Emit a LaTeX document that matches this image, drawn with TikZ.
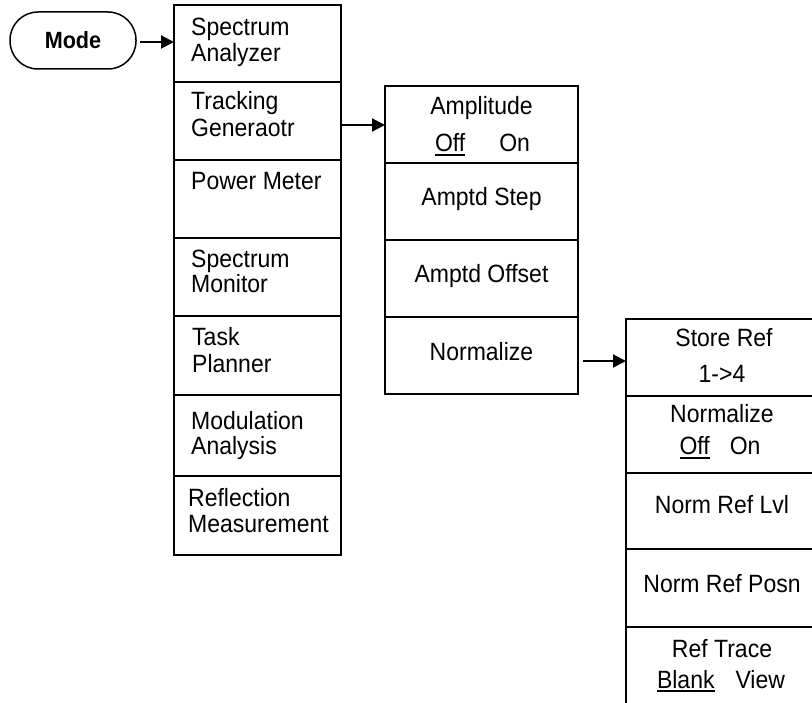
\documentclass[tikz,border=0pt]{standalone}
\usepackage{fontspec}
\setmainfont{Liberation Sans}[FakeStretch=0.92]
\usetikzlibrary{arrows.meta,calc}
\newcommand\myul[1]{\setbox0\hbox{#1}\leavevmode\rlap{\vrule width\wd0 height -2pt depth 4pt}\box0}
\begin{document}
\begin{tikzpicture}[x=1pt,y=-1pt,
 box/.style={draw,line width=2pt,inner sep=0pt,outer sep=0pt,anchor=north west},
 cA/.style={box,minimum width=167pt},
 cB/.style={box,minimum width=193pt},
 cC/.style={box,minimum width=196pt},
 lt/.style={anchor=base west,inner sep=0pt,font=\fontsize{25}{26}\selectfont},
 ct/.style={anchor=base,inner sep=0pt,font=\fontsize{25}{26}\selectfont},
 arr/.style={line width=2pt,-{Triangle[length=13pt,width=13pt]}}]
\useasboundingbox (0,0) rectangle (812,703);
\clip (0,0) rectangle (812,703);

% Mode button
\node[draw,line width=1.5pt,rounded corners=28pt,minimum width=126pt,minimum height=57pt,inner sep=0pt,outer sep=0pt,font=\fontsize{23.5}{26}\selectfont\bfseries] (mode) at (73,40.5) {Mode};

% Column 1
\node[cA,minimum height=77pt] (c1a) at (174,5) {};
\node[cA,minimum height=78pt] (c1b) at (174,82) {};
\node[cA,minimum height=78pt] (c1c) at (174,160) {};
\node[cA,minimum height=78pt] (c1d) at (174,238) {};
\node[cA,minimum height=79pt] (c1e) at (174,316) {};
\node[cA,minimum height=81pt] (c1f) at (174,395) {};
\node[cA,minimum height=79pt] (c1g) at (174,476) {};

\node[lt] (t1a1) at (191,36) {Spectrum};
\node[lt] (t1a2) at (191,62) {Analyzer};
\node[lt] (t1b1) at (191,110) {Tracking};
\node[lt] (t1b2) at (191,137) {Generaotr};
\node[lt] (t1c1) at (191,190) {Power Meter};
\node[lt] (t1d1) at (191,268) {Spectrum};
\node[lt] (t1d2) at (191,293) {Monitor};
\node[lt] (t1e1) at (192,346) {Task};
\node[lt] (t1e2) at (192,373) {Planner};
\node[lt] (t1f1) at (191,430) {Modulation};
\node[lt] (t1f2) at (191,455) {Analysis};
\node[lt] (t1g1) at (188,506) {Reflection};
\node[lt] (t1g2) at (188,532) {Measurement};

% Column 2
\node[cB,minimum height=77pt] (c2a) at (385,86) {};
\node[cB,minimum height=77pt] (c2b) at (385,163) {};
\node[cB,minimum height=77pt] (c2c) at (385,240) {};
\node[cB,minimum height=77pt] (c2d) at (385,317) {};

\node[ct] (t2a1) at (481.5,115) {Amplitude};
\node[ct] (t2a2) at (482.5,152) {\myul{Off}\hspace{34pt}On};
\node[ct] (t2b1) at (481.5,206) {Amptd Step};
\node[ct] (t2c1) at (481.5,283) {Amptd Offset};
\node[ct] (t2d1) at (481.5,361) {Normalize};

% Column 3
\node[cC,minimum height=77pt] (c3a) at (626,319) {};
\node[cC,minimum height=77pt] (c3b) at (626,396) {};
\node[cC,minimum height=76pt] (c3c) at (626,473) {};
\node[cC,minimum height=78pt] (c3d) at (626,549) {};
\node[cC,minimum height=80pt] (c3e) at (626,627) {};

\node[ct] (t3a1) at (724,347) {Store Ref};
\node[ct] (t3a2) at (722,383) {1->4};
\node[ct] (t3b1) at (722,423) {Normalize};
\node[ct] (t3b2) at (720,455) {\myul{Off}\hspace{20pt}On};
\node[ct] (t3c1) at (722,513) {Norm Ref Lvl};
\node[ct] (t3d1) at (722,592) {Norm Ref Posn};
\node[ct] (t3e1) at (722,657) {Ref Trace};
\node[ct] (t3e2) at (721,688) {\myul{Blank}\hspace{21pt}View};

% Connectors
\draw[arr,shorten <=4pt] (mode.east |- 0,42) -- (c1a.west |- 0,42);
\draw[arr] (c1b.east |- 0,125) -- (c2a.west |- 0,125);
\draw[arr,shorten <=5pt] (c2d.east |- 0,361) -- (c3a.west |- 0,361);
\end{tikzpicture}
\end{document}
